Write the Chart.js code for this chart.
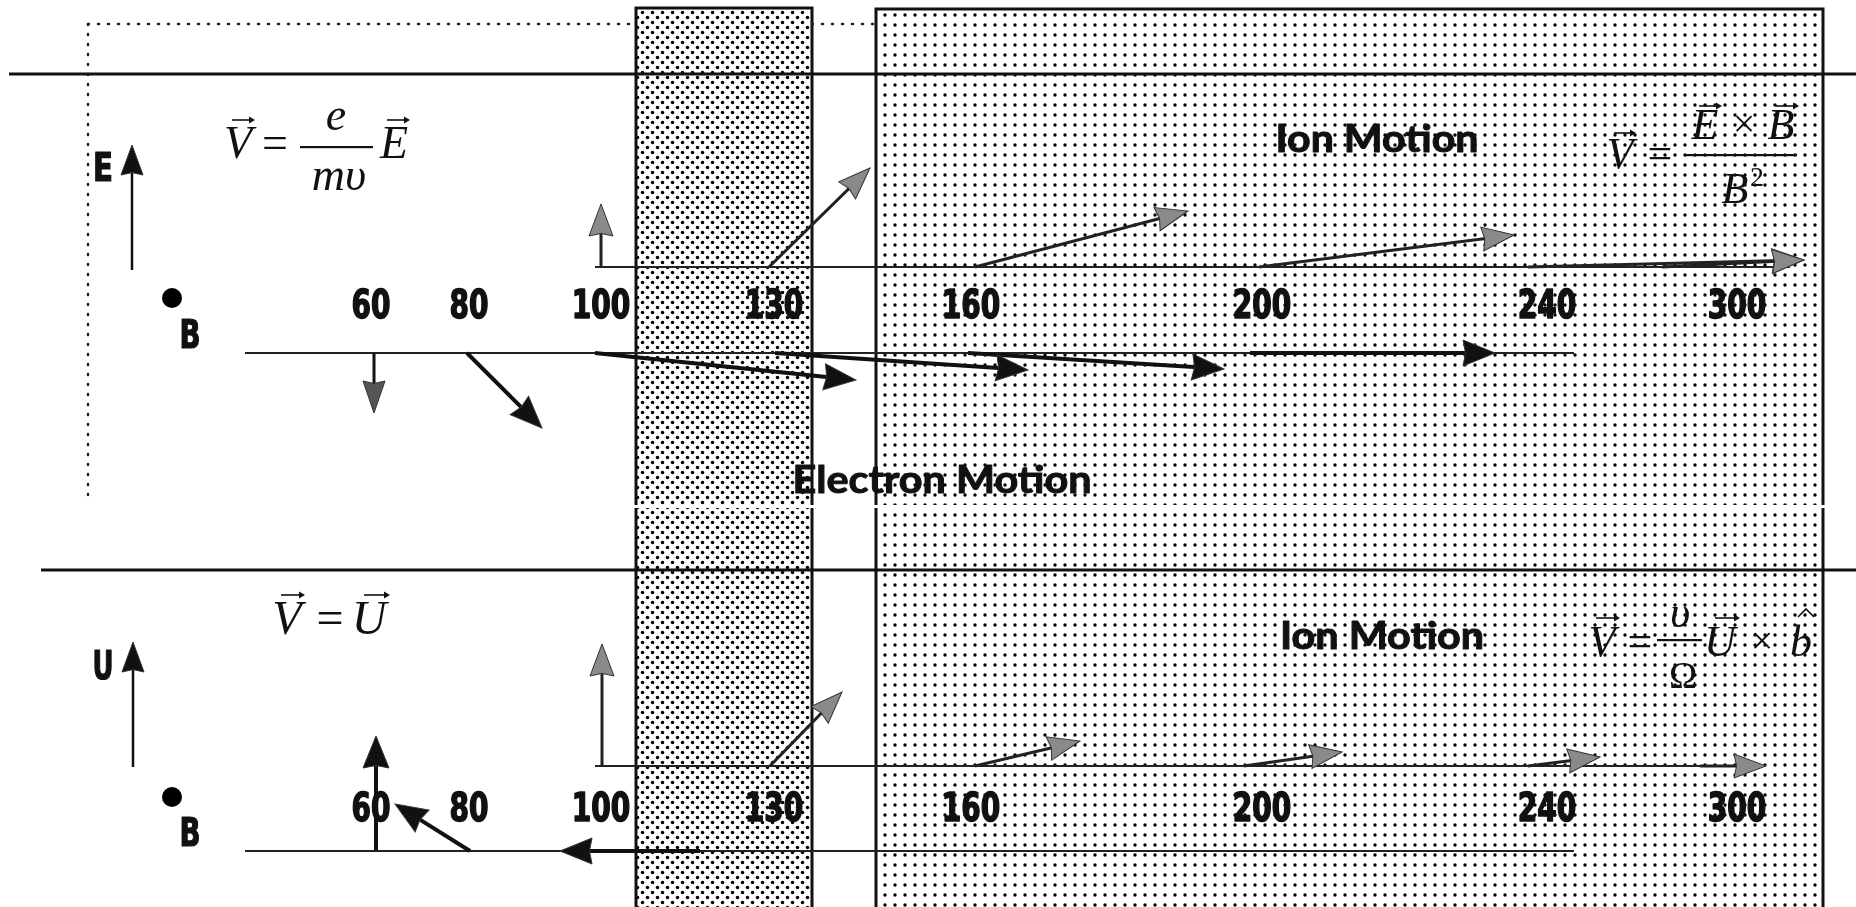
<!DOCTYPE html>
<html>
<head>
<meta charset="utf-8">
<title>Electron and ion motion</title>
<script src="https://cdn.jsdelivr.net/npm/chart.js@4.4.1/dist/chart.umd.min.js"></script>
<style>
  html, body { margin: 0; padding: 0; background: #fff; }
  canvas { display: block; }
</style>
</head>
<body>
<canvas id="diagram" width="1856" height="907"></canvas>
<script>
// altitude stations (km) and where they sit along the diagram
const altitudes = ['60', '80', '100', '130', '160', '200', '240', '300'];
const altitudeX = [371, 469, 601, 774, 971, 1262, 1547, 1737];

// upper panel: drift driven by an electric field E (dy positive = upward)
const eIonFrom = [601, 769, 975, 1259, 1528, 1662];
const eIonDx = [0, 101, 213, 255, 276, 142];
const eIonDy = [63, 99, 56, 32, 7, 7];
const eElecFrom = [374, 467, 595, 775, 968, 1250];
const eElecDx = [0, 75, 261, 253, 256, 245];
const eElecDy = [-60, -75, -27, -17, -16, 0];

// lower panel: drift driven by a neutral wind U
const uIonFrom = [602, 770, 975, 1244, 1528, 1700];
const uIonDx = [0, 72, 105, 98, 72, 66];
const uIonDy = [122, 74, 25, 14, 9, 0];
const uElecFrom = [376, 470, 700];
const uElecDx = [0, -75, -140];
const uElecDy = [115, 47, 0];

const LABEL_FONT = 'bold 39px "Liberation Sans Narrow", "DejaVu Sans Condensed", sans-serif';
const TITLE_FONT = 'bold 38px Lato, "Open Sans", sans-serif';
const SERIF = '"Liberation Serif", "DejaVu Serif", serif';

function arrow(x0, y0, x1, y1, opt) {
  const len = Math.hypot(x1 - x0, y1 - y0);
  const back = Math.min(opt.head * 0.7, len);
  const ux = (x1 - x0) / len;
  const uy = (y1 - y0) / len;
  return {
    data: [{ x: x0, y: y0 }, { x: x1 - ux * back, y: y1 - uy * back }],
    showLine: true,
    pointRadius: 0,
    borderColor: opt.color,
    borderWidth: opt.width,
    from: { x: x0, y: y0 },
    tip: { x: x1, y: y1 },
    headLen: opt.head,
    headWidth: opt.headW,
    headColor: opt.headColor,
  };
}

function segment(x0, y0, x1, y1, color, width, dash) {
  return {
    data: [{ x: x0, y: y0 }, { x: x1, y: y1 }],
    showLine: true,
    pointRadius: 0,
    borderColor: color,
    borderWidth: width,
    borderDash: dash || [],
    borderCapStyle: dash ? 'round' : 'butt',
  };
}

const ionStyle = { color: '#222', width: 3, head: 32, headW: 24, headColor: '#8a8a8a' };
const elecStyle = { color: '#111', width: 4, head: 32, headW: 26, headColor: '#111' };
const axisStyle = { color: '#111', width: 2.5, head: 30, headW: 22, headColor: '#111' };

const datasets = [];

// upper panel arrows (ion row at y=267, electron row at y=353)
eIonFrom.forEach((x0, i) => {
  datasets.push(arrow(x0, 267, x0 + eIonDx[i], 267 - eIonDy[i], ionStyle));
});
eElecFrom.forEach((x0, i) => {
  const st = i === 0 ? { ...elecStyle, width: 3, headColor: '#555', headW: 22 } : elecStyle;
  datasets.push(arrow(x0, 353, x0 + eElecDx[i], 353 - eElecDy[i], st));
});
// lower panel arrows (ion row at y=766, electron row at y=851)
uIonFrom.forEach((x0, i) => {
  datasets.push(arrow(x0, 766, x0 + uIonDx[i], 766 - uIonDy[i], ionStyle));
});
uElecFrom.forEach((x0, i) => {
  datasets.push(arrow(x0, 851, x0 + uElecDx[i], 851 - uElecDy[i], elecStyle));
});
// field / wind direction arrows
datasets.push(arrow(132, 270, 132, 145, axisStyle));
datasets.push(arrow(133, 767, 133, 642, axisStyle));

// B into the page
datasets.push({
  data: [{ x: 172, y: 298 }, { x: 172, y: 797 }],
  showLine: false,
  pointRadius: 10,
  pointBackgroundColor: '#000',
  pointBorderWidth: 0,
});

// baselines
datasets.push(segment(595, 267, 1790, 267, '#222', 2));
datasets.push(segment(245, 353, 1574, 353, '#222', 2));
datasets.push(segment(595, 766, 1735, 766, '#222', 2));
datasets.push(segment(245, 851, 1574, 851, '#222', 2));

// panel separators
datasets.push(segment(9, 74, 1856, 74, '#111', 3));
datasets.push(segment(41, 570, 1856, 570, '#111', 3));

// dotted outline
datasets.push(segment(88, 24, 636, 24, '#222', 2.5, [1, 9]));
datasets.push(segment(812, 24, 876, 24, '#222', 2.5, [1, 9]));
datasets.push(segment(88, 24, 88, 503, '#222', 2.5, [1, 9]));

function dotPattern(ctx, size, dots, r) {
  const c = document.createElement('canvas');
  c.width = size;
  c.height = size;
  const g = c.getContext('2d');
  g.fillStyle = '#fff';
  g.fillRect(0, 0, size, size);
  g.fillStyle = '#000';
  dots.forEach(([dx, dy]) => {
    g.beginPath();
    g.arc(dx, dy, r, 0, Math.PI * 2);
    g.fill();
  });
  return ctx.createPattern(c, 'repeat');
}

const bandsPlugin = {
  id: 'bands',
  beforeDatasetsDraw(chart) {
    const { ctx, scales: { x, y } } = chart;
    const bands = [
      { x0: 636, x1: 812, top: 8, pat: dotPattern(ctx, 10, [[2.5, 2.5], [7.5, 7.5]], 1.75) },
      { x0: 876, x1: 1823, top: 9, pat: dotPattern(ctx, 10, [[5, 5]], 1.7) },
    ];
    ctx.save();
    bands.forEach((b) => {
      const l = x.getPixelForValue(b.x0);
      const r = x.getPixelForValue(b.x1);
      const t = y.getPixelForValue(b.top);
      const btm = y.getPixelForValue(907);
      ctx.fillStyle = b.pat;
      ctx.fillRect(l, t, r - l, btm - t);
      ctx.strokeStyle = '#111';
      ctx.lineWidth = 3;
      ctx.beginPath();
      ctx.moveTo(l, btm + 5);
      ctx.lineTo(l, t);
      ctx.lineTo(r, t);
      ctx.lineTo(r, btm + 5);
      ctx.stroke();
    });
    // thin white seam across both shaded regions
    ctx.fillStyle = '#fff';
    ctx.fillRect(x.getPixelForValue(630), y.getPixelForValue(505), 1200, 3);
    ctx.restore();
  },
};

const headsPlugin = {
  id: 'heads',
  afterDatasetsDraw(chart) {
    const { ctx, scales: { x, y } } = chart;
    chart.data.datasets.forEach((ds) => {
      if (!ds.tip) return;
      const tx = x.getPixelForValue(ds.tip.x);
      const ty = y.getPixelForValue(ds.tip.y);
      const fx = x.getPixelForValue(ds.from.x);
      const fy = y.getPixelForValue(ds.from.y);
      const a = Math.atan2(ty - fy, tx - fx);
      ctx.save();
      ctx.translate(tx, ty);
      ctx.rotate(a);
      ctx.beginPath();
      ctx.moveTo(0, 0);
      ctx.lineTo(-ds.headLen, ds.headWidth / 2);
      ctx.lineTo(-ds.headLen * 0.92, 0);
      ctx.lineTo(-ds.headLen, -ds.headWidth / 2);
      ctx.closePath();
      ctx.fillStyle = ds.headColor;
      ctx.fill();
      ctx.strokeStyle = '#333';
      ctx.lineWidth = 1;
      ctx.stroke();
      ctx.restore();
    });
  },
};

function fitText(ctx, str, x, y, font, w, heavy) {
  ctx.font = font;
  const m = ctx.measureText(str).width;
  ctx.save();
  ctx.translate(x, y);
  ctx.scale(w / m, 1);
  if (heavy) {
    ctx.lineWidth = heavy;
    ctx.lineJoin = 'round';
    ctx.strokeText(str, 0, 0);
  }
  ctx.fillText(str, 0, 0);
  ctx.restore();
}

function serif(ctx, str, x, y, size, italic) {
  ctx.font = (italic ? 'italic ' : '') + size + 'px ' + SERIF;
  ctx.fillText(str, x, y);
}

function vecMark(ctx, x0, x1, y) {
  ctx.save();
  ctx.strokeStyle = '#111';
  ctx.lineWidth = 1.6;
  ctx.beginPath();
  ctx.moveTo(x0, y);
  ctx.lineTo(x1 - 2, y);
  ctx.stroke();
  ctx.beginPath();
  ctx.moveTo(x1, y);
  ctx.lineTo(x1 - 6, y - 3.5);
  ctx.lineTo(x1 - 6, y + 3.5);
  ctx.closePath();
  ctx.fill();
  ctx.restore();
}

function fracBar(ctx, x0, x1, y) {
  ctx.fillRect(x0, y - 1, x1 - x0, 2.2);
}

const textPlugin = {
  id: 'texts',
  afterDatasetsDraw(chart) {
    const { ctx, scales: { x, y } } = chart;
    const px = (v) => x.getPixelForValue(v);
    const py = (v) => y.getPixelForValue(v);
    ctx.save();
    ctx.fillStyle = '#111';
    ctx.strokeStyle = '#111';
    ctx.textAlign = 'center';
    ctx.textBaseline = 'alphabetic';

    altitudes.forEach((a, i) => {
      fitText(ctx, a, px(altitudeX[i]), py(318), LABEL_FONT, 19.5 * a.length, 1.5);
      fitText(ctx, a, px(altitudeX[i]), py(821), LABEL_FONT, 19.5 * a.length, 1.5);
    });

    fitText(ctx, 'E', px(103), py(181), LABEL_FONT, 20, 1.2);
    fitText(ctx, 'B', px(190), py(348), LABEL_FONT, 21, 1.2);
    fitText(ctx, 'U', px(103), py(679), LABEL_FONT, 21, 1.2);
    fitText(ctx, 'B', px(190), py(846), LABEL_FONT, 21, 1.2);

    fitText(ctx, 'Ion Motion', px(1377), py(152), TITLE_FONT, 203, 1);
    fitText(ctx, 'Ion Motion', px(1382), py(649), TITLE_FONT, 204, 1);
    fitText(ctx, 'Electron Motion', px(942), py(493), TITLE_FONT, 299, 1);

    // V = e/(m v) E
    serif(ctx, 'V', px(238), py(158), 46, true);
    vecMark(ctx, px(232), px(255), py(120));
    serif(ctx, '=', px(275), py(158), 46, false);
    fracBar(ctx, px(300), px(373), py(147));
    serif(ctx, 'e', px(336), py(130), 46, true);
    serif(ctx, 'mυ', px(339), py(190), 46, true);
    serif(ctx, 'E', px(394), py(158), 46, true);
    vecMark(ctx, px(387), px(410), py(120));

    // V = (E x B) / B^2
    serif(ctx, 'V', px(1620), py(168), 44, true);
    vecMark(ctx, px(1614), px(1636), py(133));
    serif(ctx, '=', px(1660), py(168), 44, false);
    serif(ctx, 'E', px(1705), py(139), 44, true);
    vecMark(ctx, px(1699), px(1722), py(106));
    serif(ctx, '×', px(1744), py(137), 40, false);
    serif(ctx, 'B', px(1781), py(139), 44, true);
    vecMark(ctx, px(1776), px(1799), py(106));
    fracBar(ctx, px(1686), px(1797), py(155));
    serif(ctx, 'B', px(1735), py(203), 44, true);
    serif(ctx, '2', px(1757), py(186), 28, false);

    // V = U
    serif(ctx, 'V', px(287), py(634), 48, true);
    vecMark(ctx, px(281), px(305), py(595));
    serif(ctx, '=', px(330), py(634), 48, false);
    serif(ctx, 'U', px(369), py(634), 48, true);
    vecMark(ctx, px(364), px(390), py(595));

    // V = (v / Omega) U x b
    serif(ctx, 'V', px(1602), py(656), 44, true);
    vecMark(ctx, px(1596), px(1620), py(618));
    serif(ctx, '=', px(1640), py(656), 44, false);
    serif(ctx, 'υ', px(1680), py(627), 44, true);
    fracBar(ctx, px(1657), px(1702), py(640));
    serif(ctx, 'Ω', px(1683), py(688), 38, false);
    serif(ctx, 'U', px(1720), py(656), 44, true);
    vecMark(ctx, px(1715), px(1740), py(618));
    serif(ctx, '×', px(1762), py(654), 40, false);
    serif(ctx, 'b', px(1801), py(656), 44, true);
    ctx.lineWidth = 1.6;
    ctx.beginPath();
    ctx.moveTo(px(1798), py(617));
    ctx.lineTo(px(1806), py(609));
    ctx.lineTo(px(1814), py(617));
    ctx.stroke();

    ctx.restore();
  },
};

new Chart(document.getElementById('diagram').getContext('2d'), {
  type: 'scatter',
  data: { datasets },
  options: {
    responsive: false,
    animation: false,
    events: [],
    layout: { padding: 0, autoPadding: false },
    plugins: {
      legend: { display: false },
      tooltip: { enabled: false },
    },
    scales: {
      x: { type: 'linear', display: false, min: 0, max: 1856 },
      y: { type: 'linear', display: false, min: 0, max: 907, reverse: true },
    },
  },
  plugins: [bandsPlugin, headsPlugin, textPlugin],
});
</script>
</body>
</html>
